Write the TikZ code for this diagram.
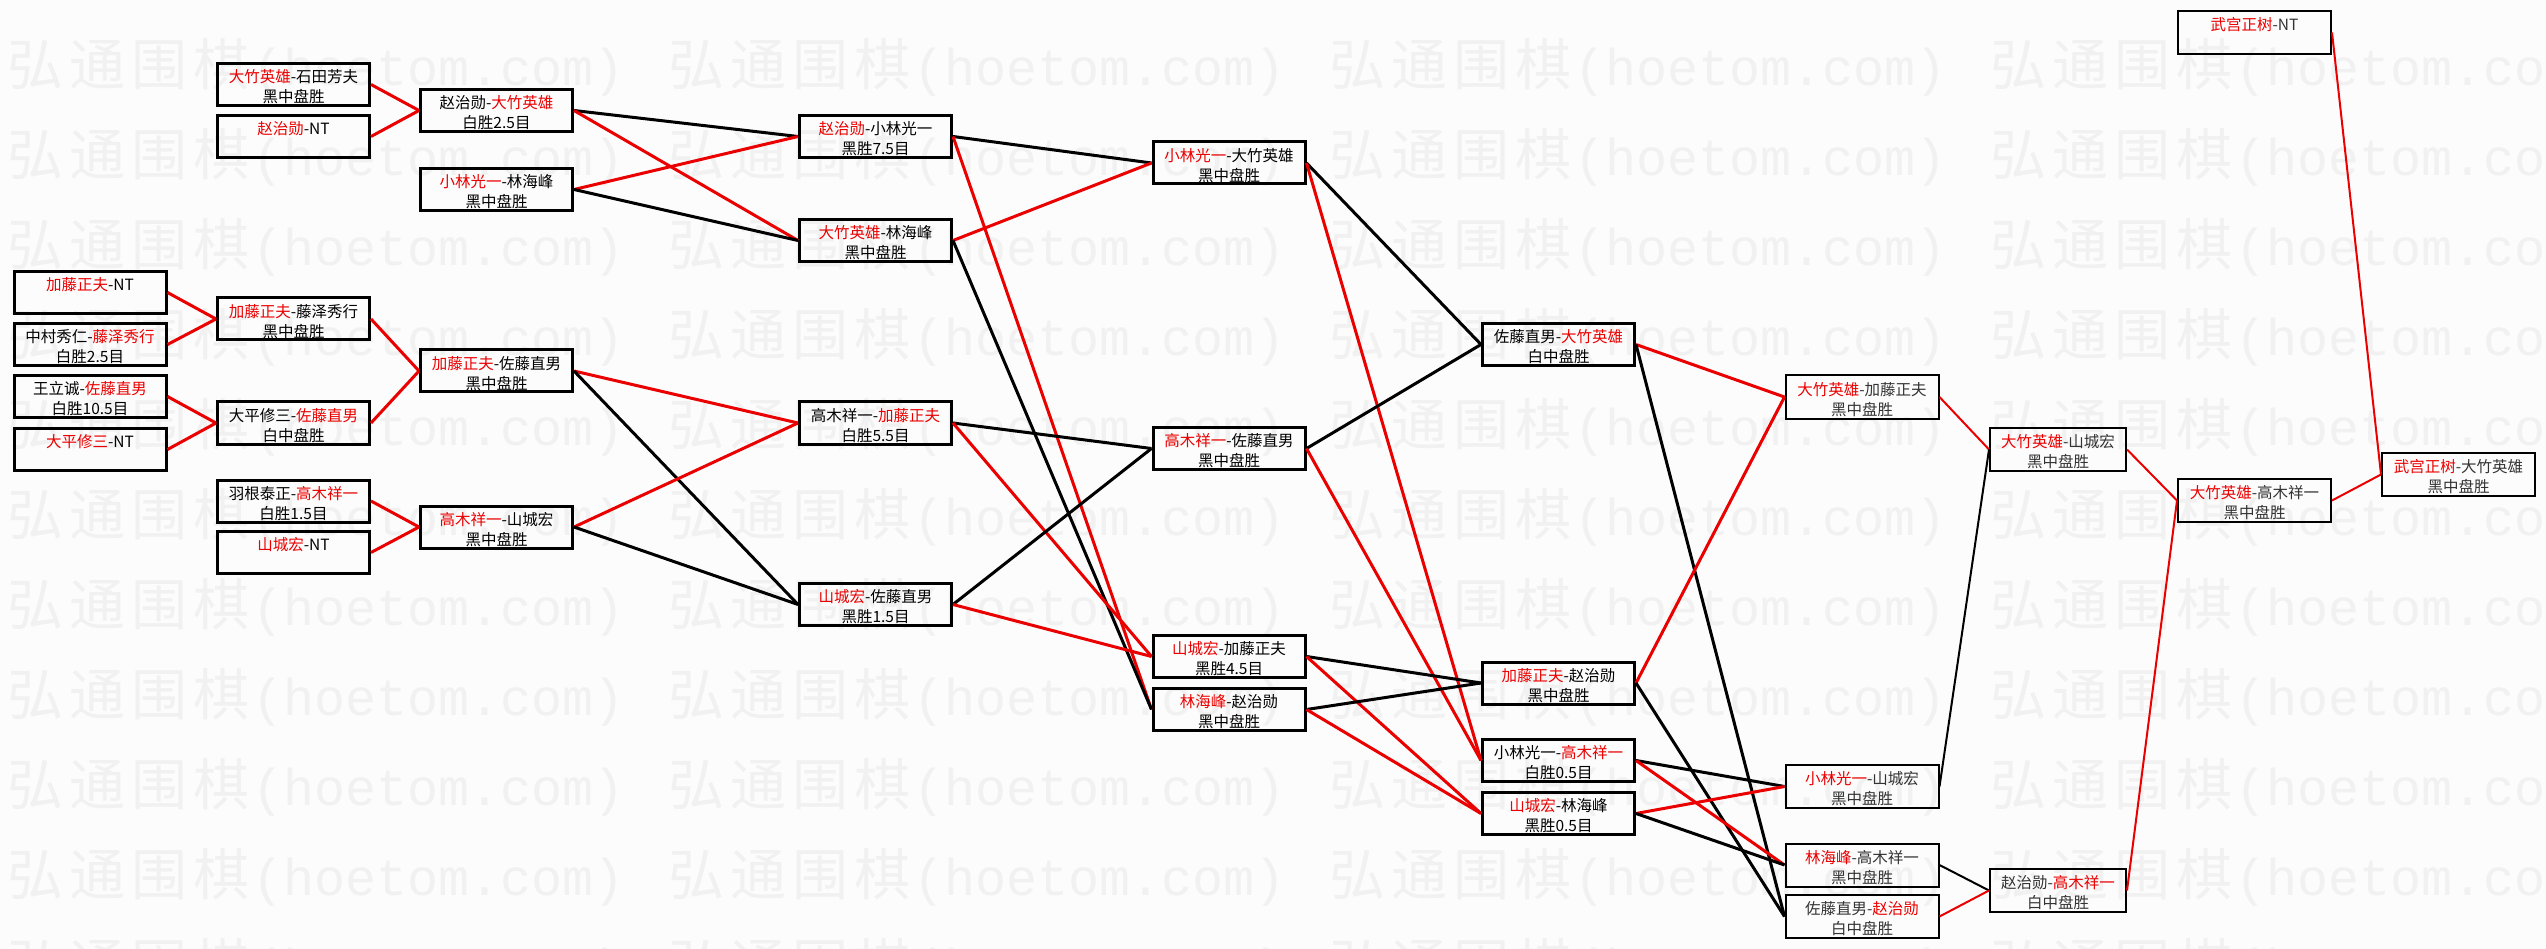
\documentclass[tikz,border=0pt]{standalone}
\usepackage{fontspec}
\setmainfont{Noto Sans CJK SC}
\newfontfamily\wmlat{Liberation Mono}
\newfontfamily\wmcjk{Noto Sans CJK SC}
\definecolor{wred}{RGB}{235,0,0}
\definecolor{wmgray}{RGB}{241,241,241}
\definecolor{bgcol}{RGB}{252,252,252}
\newcommand\rd[1]{\textcolor{wred}{#1}}
\newcommand\wmc[1]{\makebox[62pt]{#1}}
\newcommand\wmtext{{\wmcjk\fontsize{56pt}{60pt}\selectfont\wmc{弘}\wmc{通}\wmc{围}\wmc{棋}}{\wmlat\fontsize{51.67pt}{60pt}\selectfont (hoetom.com)}}
\newcommand\GBox[4]{\node[gbox] (#1) at (#2,#3) {};
  \node[lbl] (#1-t) at ([yshift=-2.5pt]#1.center) {#4};}
\newcommand\LBox[5][]{\node[gbox,lightbox,#1] (#2) at (#3,#4) {};
  \node[lbl,text=black!80] (#2-t) at ([yshift=-2.5pt]#2.center) {#5};}
\begin{document}
\begin{tikzpicture}[x=1pt,y=-1pt,
  gbox/.style={draw, line width=3pt, minimum width=152pt, minimum height=42pt, inner sep=0pt},
  lightbox/.style={line width=2pt, minimum width=153pt, minimum height=43pt},
  boxseven/.style={minimum width=136pt},
  lbl/.style={inner sep=0pt, align=center, font=\fontsize{15.5pt}{20pt}\selectfont},
  wm/.style={inner sep=0pt, anchor=west, text=wmgray},
  rcon/.style={line width=3pt, draw=wred},
  kcon/.style={line width=3pt, draw=black},
  rtcon/.style={line width=2pt, draw=wred},
  ktcon/.style={line width=2pt, draw=black},
]
\fill[bgcol] (0,0) rectangle (2546,949);
\useasboundingbox (0,0) rectangle (2546,949);
% watermark
\foreach \r in {0,...,10}{
  \foreach \k in {0,...,3}{
    \node[wm] (wm-\r-\k) at ({4+661*\k},{67+90*\r}) {\wmtext};
  }
}
% boxes
\GBox{A1}{90}{292.5}{\rd{加藤正夫}-NT\\\phantom{黑}}
\GBox{A2}{90}{344.5}{中村秀仁-\rd{藤泽秀行}\\白胜2.5目}
\GBox{A3}{90}{396.5}{王立诚-\rd{佐藤直男}\\白胜10.5目}
\GBox{A4}{90}{449.5}{\rd{大平修三}-NT\\\phantom{黑}}
\GBox{B1}{293.5}{84.5}{\rd{大竹英雄}-石田芳夫\\黑中盘胜}
\GBox{B2}{293.5}{136.5}{\rd{赵治勋}-NT\\\phantom{黑}}
\GBox{B3}{293.5}{319}{\rd{加藤正夫}-藤泽秀行\\黑中盘胜}
\GBox{B4}{293.5}{423}{大平修三-\rd{佐藤直男}\\白中盘胜}
\GBox{B5}{293.5}{501}{羽根泰正-\rd{高木祥一}\\白胜1.5目}
\GBox{B6}{293.5}{552.5}{\rd{山城宏}-NT\\\phantom{黑}}
\GBox{C1}{496.5}{110.5}{赵治勋-\rd{大竹英雄}\\白胜2.5目}
\GBox{C2}{496.5}{189.5}{\rd{小林光一}-林海峰\\黑中盘胜}
\GBox{C3}{496.5}{371}{\rd{加藤正夫}-佐藤直男\\黑中盘胜}
\GBox{C4}{496.5}{527}{\rd{高木祥一}-山城宏\\黑中盘胜}
\GBox{D1}{875.5}{136.5}{\rd{赵治勋}-小林光一\\黑胜7.5目}
\GBox{D2}{875.5}{240.5}{\rd{大竹英雄}-林海峰\\黑中盘胜}
\GBox{D3}{875.5}{423}{高木祥一-\rd{加藤正夫}\\白胜5.5目}
\GBox{D4}{875.5}{604.5}{\rd{山城宏}-佐藤直男\\黑胜1.5目}
\GBox{E1}{1229}{163}{\rd{小林光一}-大竹英雄\\黑中盘胜}
\GBox{E2}{1229}{448.5}{\rd{高木祥一}-佐藤直男\\黑中盘胜}
\GBox{E3}{1229}{656.5}{\rd{山城宏}-加藤正夫\\黑胜4.5目}
\GBox{E4}{1229}{709.5}{\rd{林海峰}-赵治勋\\黑中盘胜}
\GBox{F1}{1558.5}{344.5}{佐藤直男-\rd{大竹英雄}\\白中盘胜}
\GBox{F2}{1558.5}{683}{\rd{加藤正夫}-赵治勋\\黑中盘胜}
\GBox{F3}{1558.5}{760.5}{小林光一-\rd{高木祥一}\\白胜0.5目}
\GBox{F4}{1558.5}{813.5}{\rd{山城宏}-林海峰\\黑胜0.5目}
\LBox{G1}{1862}{397}{\rd{大竹英雄}-加藤正夫\\黑中盘胜}
\LBox{G2}{1862}{786.5}{\rd{小林光一}-山城宏\\黑中盘胜}
\LBox{G3}{1862}{865}{\rd{林海峰}-高木祥一\\黑中盘胜}
\LBox{G4}{1862}{916.5}{佐藤直男-\rd{赵治勋}\\白中盘胜}
\LBox[boxseven]{H1}{2058}{449.5}{\rd{大竹英雄}-山城宏\\黑中盘胜}
\LBox[boxseven]{H2}{2058}{890.5}{赵治勋-\rd{高木祥一}\\白中盘胜}
\LBox{I0}{2254.5}{32.5}{\rd{武宫正树}-NT\\\phantom{黑}}
\LBox{I1}{2254.5}{500.5}{\rd{大竹英雄}-高木祥一\\黑中盘胜}
\LBox{J}{2458.5}{474.5}{\rd{武宫正树}-大竹英雄\\黑中盘胜}
% connectors
\draw[rcon] (A1.east) -- (B3.west);
\draw[rcon] (A2.east) -- (B3.west);
\draw[rcon] (A3.east) -- (B4.west);
\draw[rcon] (A4.east) -- (B4.west);
\draw[rcon] (B1.east) -- (C1.west);
\draw[rcon] (B2.east) -- (C1.west);
\draw[rcon] (B3.east) -- (C3.west);
\draw[rcon] (B4.east) -- (C3.west);
\draw[rcon] (B5.east) -- (C4.west);
\draw[rcon] (B6.east) -- (C4.west);
\draw[kcon] (C1.east) -- (D1.west);
\draw[rcon] (C1.east) -- (D2.west);
\draw[rcon] (C2.east) -- (D1.west);
\draw[kcon] (C2.east) -- (D2.west);
\draw[rcon] (C3.east) -- (D3.west);
\draw[kcon] (C3.east) -- (D4.west);
\draw[rcon] (C4.east) -- (D3.west);
\draw[kcon] (C4.east) -- (D4.west);
\draw[kcon] (D1.east) -- (E1.west);
\draw[rcon] (D1.east) -- (E4.west);
\draw[rcon] (D2.east) -- (E1.west);
\draw[kcon] (D2.east) -- (E4.west);
\draw[kcon] (D3.east) -- (E2.west);
\draw[rcon] (D3.east) -- (E3.west);
\draw[kcon] (D4.east) -- (E2.west);
\draw[rcon] (D4.east) -- (E3.west);
\draw[kcon] (E1.east) -- (F1.west);
\draw[rcon] (E1.east) -- (F3.west);
\draw[kcon] (E2.east) -- (F1.west);
\draw[rcon] (E2.east) -- (F3.west);
\draw[kcon] (E3.east) -- (F2.west);
\draw[rcon] (E3.east) -- (F4.west);
\draw[kcon] (E4.east) -- (F2.west);
\draw[rcon] (E4.east) -- (F4.west);
\draw[rcon] (F1.east) -- (G1.west);
\draw[kcon] (F1.east) -- (G4.west);
\draw[rcon] (F2.east) -- (G1.west);
\draw[kcon] (F2.east) -- (G4.west);
\draw[kcon] (F3.east) -- (G2.west);
\draw[rcon] (F3.east) -- (G3.west);
\draw[rcon] (F4.east) -- (G2.west);
\draw[kcon] (F4.east) -- (G3.west);
\draw[rtcon] (G1.east) -- (H1.west);
\draw[ktcon] (G2.east) -- (H1.west);
\draw[ktcon] (G3.east) -- (H2.west);
\draw[rtcon] (G4.east) -- (H2.west);
\draw[rtcon] (H1.east) -- (I1.west);
\draw[rtcon] (H2.east) -- (I1.west);
\draw[rtcon] (I0.east) -- (J.west);
\draw[rtcon] (I1.east) -- (J.west);
\end{tikzpicture}
\end{document}
